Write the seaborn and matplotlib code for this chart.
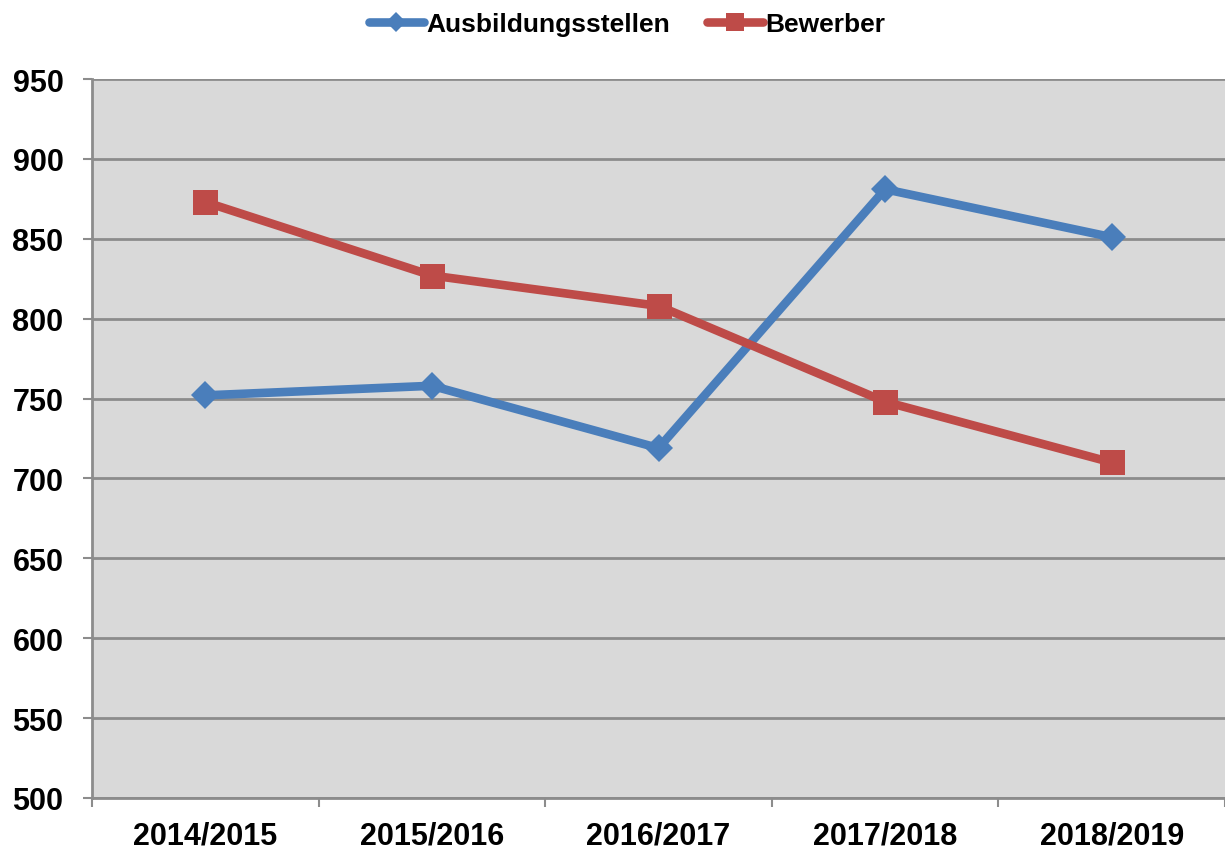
import matplotlib
matplotlib.use("Agg")
import matplotlib.pyplot as plt
import pandas as pd
import seaborn as sns

years = ["2014/2015", "2015/2016", "2016/2017", "2017/2018", "2018/2019"]
ausbildungsstellen = [752, 758, 719, 881, 851]
bewerber = [873, 827, 808, 748, 710]
series_names = ["Ausbildungsstellen", "Bewerber"]
y_ticks = [500, 550, 600, 650, 700, 750, 800, 850, 900, 950]

df = pd.DataFrame({
    "Jahr": years * 2,
    "Anzahl": ausbildungsstellen + bewerber,
    "Reihe": [series_names[0]] * len(years) + [series_names[1]] * len(years),
})

sns.set_style("white")
plt.rcParams["font.family"] = ["Liberation Sans", "DejaVu Sans"]
plt.rcParams["font.weight"] = "bold"
plt.rcParams["text.color"] = "black"
plt.rcParams["xtick.color"] = "black"
plt.rcParams["ytick.color"] = "black"

fig = plt.figure(figsize=(12.25, 8.53), dpi=100)
ax = fig.add_axes([92 / 1225, 1 - 799 / 853, 1 - 92 / 1225, (799 - 80) / 853])
ax.set_facecolor("#d9d9d9")

palette = {"Ausbildungsstellen": "#4a7ebb", "Bewerber": "#be4b48"}
markers = {"Ausbildungsstellen": "D", "Bewerber": "s"}
sns.lineplot(data=df, x="Jahr", y="Anzahl", hue="Reihe", style="Reihe",
             palette=palette, markers=markers, dashes=False, linewidth=6.2,
             markersize=18, markeredgewidth=0, ax=ax, sort=False)
for line in ax.lines:
    if line.get_marker() == "D":
        line.set_markersize(14)

ax.set_xlim(-0.5, len(years) - 0.5)
ax.set_ylim(500, 950)
ax.set_yticks(y_ticks)
ax.set_xticks(range(len(years)))
ax.set_xticklabels(years)
ax.set_xticks([i - 0.5 for i in range(len(years) + 1)], minor=True)
ax.set_xlabel("")
ax.set_ylabel("")

ax.grid(axis="y", color="#8c8c8c", linewidth=2)
ax.set_axisbelow(True)
for side in ["top", "right"]:
    ax.spines[side].set_visible(False)
for side in ["left", "bottom"]:
    ax.spines[side].set_color("#8c8c8c")
    ax.spines[side].set_linewidth(2)

ax.tick_params(axis="y", which="major", left=True, length=6.5, width=1.5,
               color="#8c8c8c", labelcolor="black", labelsize=22, pad=14)
ax.tick_params(axis="x", which="major", bottom=False, length=0,
               labelcolor="black", labelsize=22, pad=16)
ax.tick_params(axis="x", which="minor", bottom=True, length=6.5, width=1.5,
               color="#8c8c8c")
for lbl in ax.get_xticklabels() + ax.get_yticklabels():
    lbl.set_fontweight("bold")

handles, labels = ax.get_legend_handles_labels()
ax.get_legend().remove()
leg = fig.legend(handles, labels, loc="center",
                 bbox_to_anchor=(627 / 1225, 1 - 25 / 853),
                 ncol=2, frameon=False, handlelength=2.1, handletextpad=0.1,
                 columnspacing=1.4, markerscale=0.75,
                 prop={"size": 19, "weight": "bold"})
for t in leg.get_texts():
    t.set_color("black")

fig.savefig("out.png", dpi=100)
plt.close(fig)
